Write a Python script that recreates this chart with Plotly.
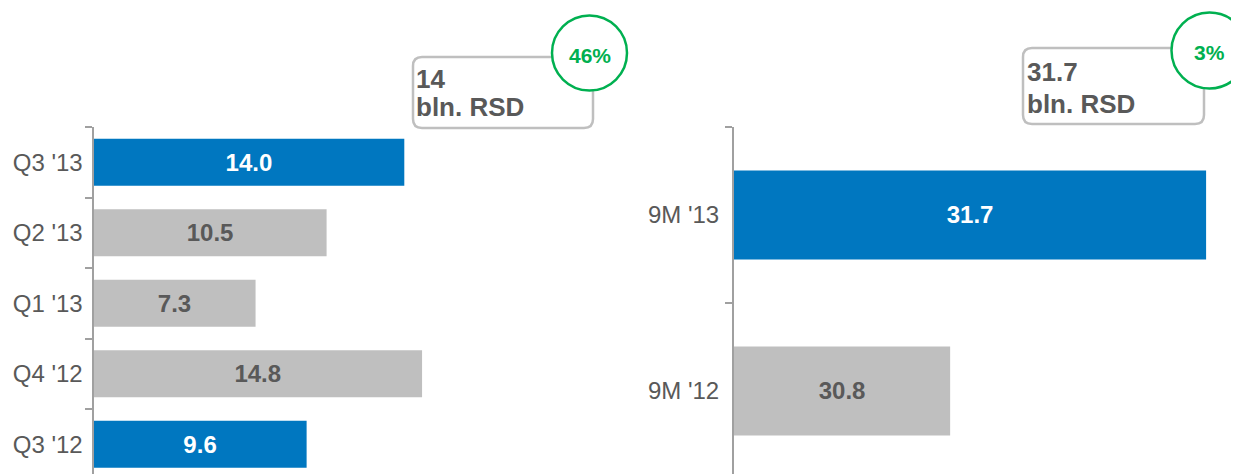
import plotly.graph_objects as go

# ---- data ----
q_categories = ["Q3 '12", "Q4 '12", "Q1 '13", "Q2 '13", "Q3 '13"]
q_values = [9.6, 14.8, 7.3, 10.5, 14.0]
q_colors = ["#0077C0", "#BFBFBF", "#BFBFBF", "#BFBFBF", "#0077C0"]
q_text_colors = ["#FFFFFF", "#595959", "#595959", "#595959", "#FFFFFF"]

m_categories = ["9M '12", "9M '13"]
m_values = [30.8, 31.7]
m_colors = ["#BFBFBF", "#0077C0"]
m_text_colors = ["#595959", "#FFFFFF"]
m_axis_min = 30.04

callout_left = ("14", "bln. RSD", "46%")
callout_right = ("31.7", "bln. RSD", "3%")

# page body has an 8px margin; design coordinates are page pixels
OFF = 8
PAGE_W, PAGE_H = 1239, 474
W, H = PAGE_W - OFF, PAGE_H - OFF
FONT = "Arial, Liberation Sans, sans-serif"
DARK = "#595959"
GREEN = "#00B050"
AXIS = "#A0A0A0"


def px(x):
    return (x - OFF) / W


def py(y):
    return 1 - (y - OFF) / H


fig = go.Figure()

fig.add_trace(go.Bar(
    y=q_categories, x=q_values, orientation="h",
    marker=dict(color=q_colors, line=dict(width=0)),
    width=0.667,
    text=[f"{v:.1f}" for v in q_values],
    textposition="inside", insidetextanchor="middle", textangle=0,
    textfont=dict(family=FONT, size=24, color=q_text_colors, weight="bold"),
    xaxis="x", yaxis="y", hoverinfo="skip", showlegend=False,
))

fig.add_trace(go.Bar(
    y=m_categories, x=[v - m_axis_min for v in m_values], base=m_axis_min,
    orientation="h",
    marker=dict(color=m_colors, line=dict(width=0)),
    width=0.505,
    text=[f"{v:.1f}" for v in m_values],
    textposition="inside", insidetextanchor="middle", textangle=0,
    textfont=dict(family=FONT, size=24, color=m_text_colors, weight="bold"),
    xaxis="x2", yaxis="y2", hoverinfo="skip", showlegend=False,
))

top = 127
ydom = [0, py(top)]

fig.update_layout(
    width=W, height=H,
    margin=dict(l=0, r=0, t=0, b=0),
    paper_bgcolor="white", plot_bgcolor="white",
    font=dict(family=FONT, color=DARK),
    xaxis=dict(domain=[px(93.5), px(600)], range=[0, (600 - 93.5) / 22.2],
               visible=False, fixedrange=True),
    yaxis=dict(domain=ydom, range=[-0.422, 4.5], type="category",
               categoryorder="array", categoryarray=q_categories,
               showline=True, linecolor=AXIS, linewidth=2,
               ticks="outside", ticklen=7, tickwidth=2, tickcolor=AXIS,
               tickson="boundaries", showgrid=False, zeroline=False,
               tickfont=dict(family=FONT, size=24, color=DARK),
               ticklabelstandoff=4, automargin=False, anchor="x"),
    xaxis2=dict(domain=[px(734), 1], range=[m_axis_min, m_axis_min + (PAGE_W - 734) / 284.4],
                visible=False, fixedrange=True, anchor="y2"),
    yaxis2=dict(domain=ydom, range=[-0.472, 1.5], type="category",
                categoryorder="array", categoryarray=m_categories,
                showline=True, linecolor=AXIS, linewidth=2,
                ticks="outside", ticklen=7, tickwidth=2, tickcolor=AXIS,
                tickson="boundaries", showgrid=False, zeroline=False,
                tickfont=dict(family=FONT, size=24, color=DARK),
                ticklabelstandoff=8, automargin=False, anchor="x2"),
)


def rounded_rect(x0, y0, x1, y1, r):
    rx, ry = r / W, r / H
    X0, X1 = px(x0), px(x1)
    Y0, Y1 = py(y0), py(y1)  # Y0 top, Y1 bottom
    return (f"M {X0 + rx},{Y0} L {X1 - rx},{Y0} Q {X1},{Y0} {X1},{Y0 - ry} "
            f"L {X1},{Y1 + ry} Q {X1},{Y1} {X1 - rx},{Y1} "
            f"L {X0 + rx},{Y1} Q {X0},{Y1} {X0},{Y1 + ry} "
            f"L {X0},{Y0 - ry} Q {X0},{Y0} {X0 + rx},{Y0} Z")


def callout(box, circ, texts, text_x, line_y):
    x0, y0, x1, y1 = box
    fig.add_shape(type="path", path=rounded_rect(x0, y0, x1, y1, 9),
                  xref="paper", yref="paper",
                  line=dict(color="#BFBFBF", width=2.5), fillcolor="white")
    cx, cy, r = circ
    fig.add_shape(type="circle", xref="paper", yref="paper",
                  x0=px(cx - r), x1=px(cx + r), y0=py(cy + r), y1=py(cy - r),
                  line=dict(color=GREEN, width=2.5), fillcolor="white")
    for t, yy in zip(texts[:2], line_y):
        fig.add_annotation(text=f"<b>{t}</b>", x=px(text_x), y=py(yy),
                           xref="paper", yref="paper", xanchor="left", yanchor="middle",
                           showarrow=False, font=dict(family=FONT, size=26, color=DARK))
    fig.add_annotation(text=f"<b>{texts[2]}</b>", x=px(cx), y=py(cy + 2),
                       xref="paper", yref="paper", xanchor="center", yanchor="middle",
                       showarrow=False, font=dict(family=FONT, size=21, color=GREEN))


callout((413, 57, 593, 128), (589.5, 53, 37.5), callout_left, 414, (79, 107))
callout((1023, 48, 1204, 124), (1209.5, 50.5, 38), callout_right, 1025, (72, 104))

fig.write_html("out.html")
